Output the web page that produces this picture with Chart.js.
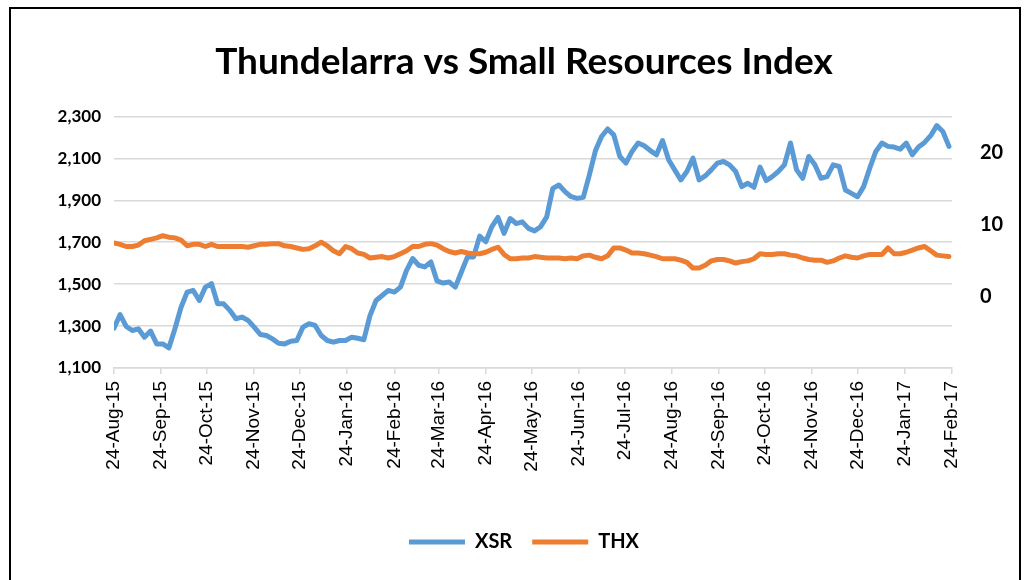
<!DOCTYPE html>
<html>
<head>
<meta charset="utf-8">
<title>Thundelarra vs Small Resources Index</title>
<script src="https://cdn.jsdelivr.net/npm/chart.js@4.4.1/dist/chart.umd.min.js"></script>
<style>
  html, body { margin: 0; padding: 0; background: #fff; overflow: hidden; }
  #wrap { position: relative; width: 1024px; height: 580px; }
  #frame { position: absolute; left: 9px; top: 7px; width: 1008px; height: 620px; border: 2px solid #000; }
  #c { position: absolute; left: 0; top: 0; }
</style>
</head>
<body>
<div id="wrap">
  <div id="frame"></div>
  <canvas id="c" width="1024" height="580"></canvas>
</div>
<script>
// readings every 4 calendar days from 24-Aug-15
const startDate = '24-Aug-15';
const stepDays = 4;

const xsr = [
  1290, 1355, 1298, 1279, 1287, 1247, 1276, 1215, 1215, 1196,
  1287, 1390, 1462, 1470, 1422, 1486, 1502, 1406, 1406, 1375,
  1335, 1343, 1327, 1295, 1260, 1255, 1239, 1218, 1215, 1228,
  1231, 1295, 1311, 1303, 1255, 1231, 1223, 1231, 1231, 1247,
  1242, 1235, 1350, 1422, 1446, 1470, 1462, 1486, 1566, 1622,
  1590, 1582, 1606, 1515, 1505, 1510, 1486, 1558, 1630, 1630,
  1729, 1702, 1774, 1818, 1742, 1813, 1789, 1797, 1766, 1754,
  1774, 1821, 1957, 1973, 1941, 1917, 1909, 1914, 2021, 2137,
  2204, 2240, 2212, 2109, 2077, 2133, 2173, 2160, 2137, 2117,
  2185, 2093, 2045, 1997, 2037, 2101, 1997, 2016, 2045, 2077,
  2085, 2069, 2037, 1965, 1981, 1962, 2058, 1994, 2013, 2037,
  2069, 2173, 2045, 2005, 2109, 2069, 2005, 2013, 2069, 2061,
  1949, 1933, 1917, 1965, 2053, 2133, 2173, 2157, 2154, 2144,
  2173, 2117, 2154, 2176, 2208, 2256, 2228, 2157
];

const thx = [
  7.4, 7.2, 6.9, 6.9, 7.1, 7.7, 7.9, 8.1, 8.4, 8.2,
  8.1, 7.8, 7.0, 7.2, 7.2, 6.9, 7.2, 6.9, 6.9, 6.9,
  6.9, 6.9, 6.8, 7.0, 7.2, 7.2, 7.3, 7.3, 7.0, 6.9,
  6.7, 6.5, 6.6, 7.0, 7.5, 7.0, 6.3, 5.9, 6.9, 6.6,
  6.0, 5.8, 5.3, 5.4, 5.5, 5.3, 5.5, 5.9, 6.3, 6.9,
  6.9, 7.2, 7.3, 7.1, 6.6, 6.2, 6.0, 6.2, 6.0, 5.9,
  5.9, 6.1, 6.5, 6.8, 5.8, 5.2, 5.2, 5.3, 5.3, 5.5,
  5.4, 5.3, 5.3, 5.3, 5.2, 5.3, 5.2, 5.6, 5.7, 5.4,
  5.2, 5.6, 6.7, 6.7, 6.4, 6.0, 6.0, 5.9, 5.7, 5.5,
  5.2, 5.2, 5.2, 5.0, 4.7, 3.9, 3.9, 4.3, 4.9, 5.1,
  5.1, 4.9, 4.6, 4.8, 4.9, 5.2, 5.9, 5.8, 5.8, 5.9,
  5.9, 5.7, 5.6, 5.3, 5.1, 5.0, 5.0, 4.7, 4.9, 5.3,
  5.6, 5.4, 5.3, 5.6, 5.8, 5.8, 5.8, 6.7, 5.9, 5.9,
  6.1, 6.4, 6.7, 6.9, 6.3, 5.7, 5.6, 5.5
];

const xTickLabels = [
  '24-Aug-15', '24-Sep-15', '24-Oct-15', '24-Nov-15', '24-Dec-15',
  '24-Jan-16', '24-Feb-16', '24-Mar-16', '24-Apr-16', '24-May-16',
  '24-Jun-16', '24-Jul-16', '24-Aug-16', '24-Sep-16', '24-Oct-16',
  '24-Nov-16', '24-Dec-16', '24-Jan-17', '24-Feb-17'
];
const yLeftRange = [1100, 2300];
const yLeftStep = 200;
const yRightRange = [-10, 25];
const yRightTicks = [0, 10, 20];

const months = ['Jan','Feb','Mar','Apr','May','Jun','Jul','Aug','Sep','Oct','Nov','Dec'];
function toUtc(s) {
  const p = s.split('-');
  return Date.UTC(2000 + Number(p[2]), months.indexOf(p[1]), Number(p[0]));
}
const t0 = toUtc(startDate);
const dayOf = s => Math.round((toUtc(s) - t0) / 86400000);
const xTickDays = xTickLabels.map(dayOf);

const xsrPts = xsr.map((v, i) => ({ x: i * stepDays, y: v }));
const thxPts = thx.map((v, i) => ({ x: i * stepDays, y: v }));

const gridCol = '#d9d9d9';

new Chart(document.getElementById('c'), {
  type: 'line',
  data: {
    datasets: [
      {
        label: 'XSR', data: xsrPts, yAxisID: 'y', order: 1,
        borderColor: '#5b9bd5', backgroundColor: '#5b9bd5',
        borderWidth: 5, pointRadius: 0, tension: 0,
        borderCapStyle: 'round', borderJoinStyle: 'round'
      },
      {
        label: 'THX', data: thxPts, yAxisID: 'y1', order: 0,
        borderColor: '#ed7d31', backgroundColor: '#ed7d31',
        borderWidth: 5, pointRadius: 0, tension: 0,
        borderCapStyle: 'round', borderJoinStyle: 'round'
      }
    ]
  },
  options: {
    responsive: false,
    animation: false,
    events: [],
    layout: { padding: { left: 24, right: 0, top: 0, bottom: 18 } },
    plugins: {
      title: {
        display: true,
        text: 'Thundelarra vs Small Resources Index',
        color: '#000',
        font: { family: 'Lato', size: 37, weight: 'bold' },
        padding: { top: 40, bottom: 32 }
      },
      legend: {
        position: 'bottom',
        labels: {
          usePointStyle: true,
          pointStyle: 'line',
          pointStyleWidth: 56,
          color: '#000',
          font: { family: 'Lato', size: 20, weight: 'bold' },
          padding: 20,
          sort: (a, b) => a.datasetIndex - b.datasetIndex
        }
      },
      tooltip: { enabled: false }
    },
    scales: {
      x: {
        type: 'linear',
        min: xTickDays[0],
        max: xTickDays[xTickDays.length - 1],
        afterBuildTicks: s => { s.ticks = xTickDays.map(v => ({ value: v })); },
        afterFit: s => { s.height = 144; },
        grid: { display: true, drawOnChartArea: false, drawTicks: true, tickLength: 6, color: gridCol, lineWidth: 1.5 },
        border: { display: true, color: gridCol, width: 1.5 },
        ticks: {
          autoSkip: false, minRotation: 90, maxRotation: 90, padding: 7,
          color: '#000',
          font: { family: 'Liberation Sans', size: 19 },
          callback: (v, i) => xTickLabels[i]
        }
      },
      y: {
        position: 'left',
        min: yLeftRange[0], max: yLeftRange[1],
        afterFit: s => { s.width = 90; },
        grid: { color: gridCol, lineWidth: 1.5, drawTicks: false },
        border: { display: false },
        ticks: {
          stepSize: yLeftStep, padding: 13, color: '#000',
          font: { family: 'Lato', size: 17, weight: 'bold' },
          callback: v => v.toLocaleString('en-US')
        }
      },
      y1: {
        position: 'right',
        min: yRightRange[0], max: yRightRange[1],
        afterFit: s => { s.width = 72; },
        afterBuildTicks: s => { s.ticks = yRightTicks.map(v => ({ value: v })); },
        grid: { display: false, drawTicks: false },
        border: { display: false },
        ticks: {
          padding: 28, color: '#000',
          font: { family: 'Lato', size: 20, weight: 'bold' }
        }
      }
    }
  }
});
</script>
</body>
</html>
